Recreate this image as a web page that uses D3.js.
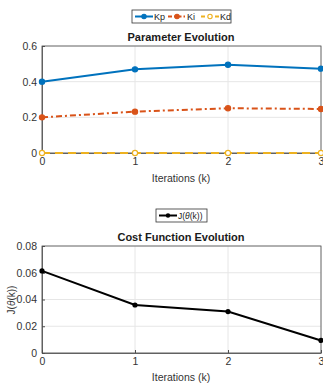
<!DOCTYPE html>
<html>
<head>
<meta charset="utf-8">
<script src="https://cdn.jsdelivr.net/npm/d3@7"></script>
<style>
  body { margin: 0; background: #fff; }
  text { font-family: "Liberation Sans", Arial, sans-serif; }
</style>
</head>
<body>
<div id="chart"></div>
<script>
var width = 323;
var height = 383;

var iterations = [0, 1, 2, 3];
var kp = [0.40, 0.469, 0.495, 0.473];
var ki = [0.20, 0.232, 0.251, 0.247];
var kd = [0, 0, 0, 0];
var cost = [0.0614, 0.0359, 0.031, 0.0094];
var paramTicks = [0, 0.2, 0.4, 0.6];
var costTicks = [0, 0.02, 0.04, 0.06, 0.08];

var svg = d3.select('#chart')
  .append('svg')
  .attr('width', width)
  .attr('height', height);

var x = d3.scaleLinear().domain([0, 3]).range([42, 321]);
var axisColor = '#4d4d4d';

function drawFrame(y, ticks, fmt, yTop, yBottom) {
  // grid lines
  svg.append('g').selectAll('line.gx')
    .data(iterations).enter().append('line')
    .attr('x1', function(d) { return x(d); })
    .attr('x2', function(d) { return x(d); })
    .attr('y1', yTop).attr('y2', yBottom)
    .attr('stroke', '#e6e6e6').attr('stroke-width', 1);
  svg.append('g').selectAll('line.gy')
    .data(ticks).enter().append('line')
    .attr('x1', x(0)).attr('x2', x(3))
    .attr('y1', function(d) { return y(d); })
    .attr('y2', function(d) { return y(d); })
    .attr('stroke', '#e6e6e6').attr('stroke-width', 1);

  // box
  svg.append('rect')
    .attr('x', x(0)).attr('y', yTop)
    .attr('width', x(3) - x(0)).attr('height', yBottom - yTop)
    .attr('fill', 'none').attr('stroke', axisColor).attr('stroke-width', 0.8);

  var xAxis = svg.append('g')
    .attr('transform', 'translate(0,' + yBottom + ')')
    .call(d3.axisBottom(x).tickValues(iterations).tickFormat(d3.format('d'))
      .tickSizeInner(-3).tickSizeOuter(0).tickPadding(5));
  var yAxis = svg.append('g')
    .attr('transform', 'translate(' + x(0) + ',0)')
    .call(d3.axisLeft(y).tickValues(ticks).tickFormat(fmt).tickSizeInner(-3).tickSizeOuter(0).tickPadding(5));
  [xAxis, yAxis].forEach(function(a) {
    a.select('.domain').attr('stroke', axisColor).attr('stroke-width', 0.8);
    a.selectAll('.tick line').attr('stroke', axisColor);
    a.selectAll('.tick text').attr('fill', '#333').style('font-size', '10.5px')
      .style('font-family', '"Liberation Sans", Arial, sans-serif');
  });
}

// ---------- top: parameter evolution ----------
var y1 = d3.scaleLinear().domain([0, 0.6]).range([153, 46]);
drawFrame(y1, paramTicks, function(d) { return d === 0 ? '0' : d3.format('.1f')(d); }, 46, 153);

var series = [
  { name: 'Kp', values: kp, color: '#0072BD', dash: null, fill: '#0072BD' },
  { name: 'Ki', values: ki, color: '#D95319', dash: '6,3,2,3', fill: '#D95319' },
  { name: 'Kd', values: kd, color: '#EDB120', dash: '8,5', fill: '#ffffff' }
];

var line1 = d3.line()
  .x(function(d, i) { return x(iterations[i]); })
  .y(function(d) { return y1(d); });

series.forEach(function(s) {
  svg.append('path')
    .attr('d', line1(s.values))
    .attr('fill', 'none')
    .attr('stroke', s.color)
    .attr('stroke-width', 2)
    .attr('stroke-dasharray', s.dash);
  svg.append('g').selectAll('circle')
    .data(s.values).enter().append('circle')
    .attr('cx', function(d, i) { return x(iterations[i]); })
    .attr('cy', function(d) { return y1(d); })
    .attr('r', 2.6)
    .attr('fill', s.fill)
    .attr('stroke', s.color)
    .attr('stroke-width', 1.2);
});

svg.append('text').attr('x', 181).attr('y', 41).attr('text-anchor', 'middle')
  .style('font-size', '11px').style('font-weight', 'bold').attr('fill', '#1a1a1a')
  .text('Parameter Evolution');
svg.append('text').attr('x', 181).attr('y', 182).attr('text-anchor', 'middle')
  .style('font-size', '10.5px').attr('fill', '#333')
  .text('Iterations (k)');

// legend top
var leg = svg.append('g');
leg.append('rect').attr('x', 132).attr('y', 10).attr('width', 99).attr('height', 13)
  .attr('fill', '#fff').attr('stroke', '#333').attr('stroke-width', 0.8);
var legX = [135, 168, 201];
series.forEach(function(s, i) {
  var lx = legX[i];
  leg.append('line').attr('x1', lx).attr('x2', lx + 18).attr('y1', 16.5).attr('y2', 16.5)
    .attr('stroke', s.color).attr('stroke-width', 2)
    .attr('stroke-dasharray', s.dash ? (i === 1 ? '4,2,1.5,2' : '4,3') : null);
  leg.append('circle').attr('cx', lx + 9).attr('cy', 16.5).attr('r', 2.2)
    .attr('fill', s.fill).attr('stroke', s.color).attr('stroke-width', 1.1);
  leg.append('text').attr('x', lx + 19).attr('y', 20).style('font-size', '9px')
    .attr('fill', '#222').text(s.name);
});

// ---------- bottom: cost function ----------
var y2 = d3.scaleLinear().domain([0, 0.08]).range([353, 246]);
drawFrame(y2, costTicks, function(d) { return d === 0 ? '0' : d3.format('.2f')(d); }, 246, 353);

var line2 = d3.line()
  .x(function(d, i) { return x(iterations[i]); })
  .y(function(d) { return y2(d); });
svg.append('path').attr('d', line2(cost))
  .attr('fill', 'none').attr('stroke', '#000').attr('stroke-width', 2);
svg.append('g').selectAll('circle')
  .data(cost).enter().append('circle')
  .attr('cx', function(d, i) { return x(iterations[i]); })
  .attr('cy', function(d) { return y2(d); })
  .attr('r', 2.6).attr('fill', '#000');

svg.append('text').attr('x', 181).attr('y', 241).attr('text-anchor', 'middle')
  .style('font-size', '11px').style('font-weight', 'bold').attr('fill', '#1a1a1a')
  .text('Cost Function Evolution');
svg.append('text').attr('x', 181).attr('y', 381).attr('text-anchor', 'middle')
  .style('font-size', '10.5px').attr('fill', '#333')
  .text('Iterations (k)');
svg.append('text').attr('transform', 'translate(15,300) rotate(-90)')
  .attr('text-anchor', 'middle').style('font-size', '10px').attr('fill', '#333')
  .html('J(<tspan font-style="italic">θ</tspan>(k))');

// legend bottom
var leg2 = svg.append('g');
leg2.append('rect').attr('x', 156).attr('y', 209).attr('width', 51).attr('height', 13)
  .attr('fill', '#fff').attr('stroke', '#333').attr('stroke-width', 0.8);
leg2.append('line').attr('x1', 159).attr('x2', 177).attr('y1', 215.5).attr('y2', 215.5)
  .attr('stroke', '#000').attr('stroke-width', 2);
leg2.append('circle').attr('cx', 168).attr('cy', 215.5).attr('r', 2.2).attr('fill', '#000');
leg2.append('text').attr('x', 178).attr('y', 219).style('font-size', '8.5px').attr('fill', '#222')
  .html('J(<tspan font-style="italic">θ</tspan>(k))');
</script>
</body>
</html>
